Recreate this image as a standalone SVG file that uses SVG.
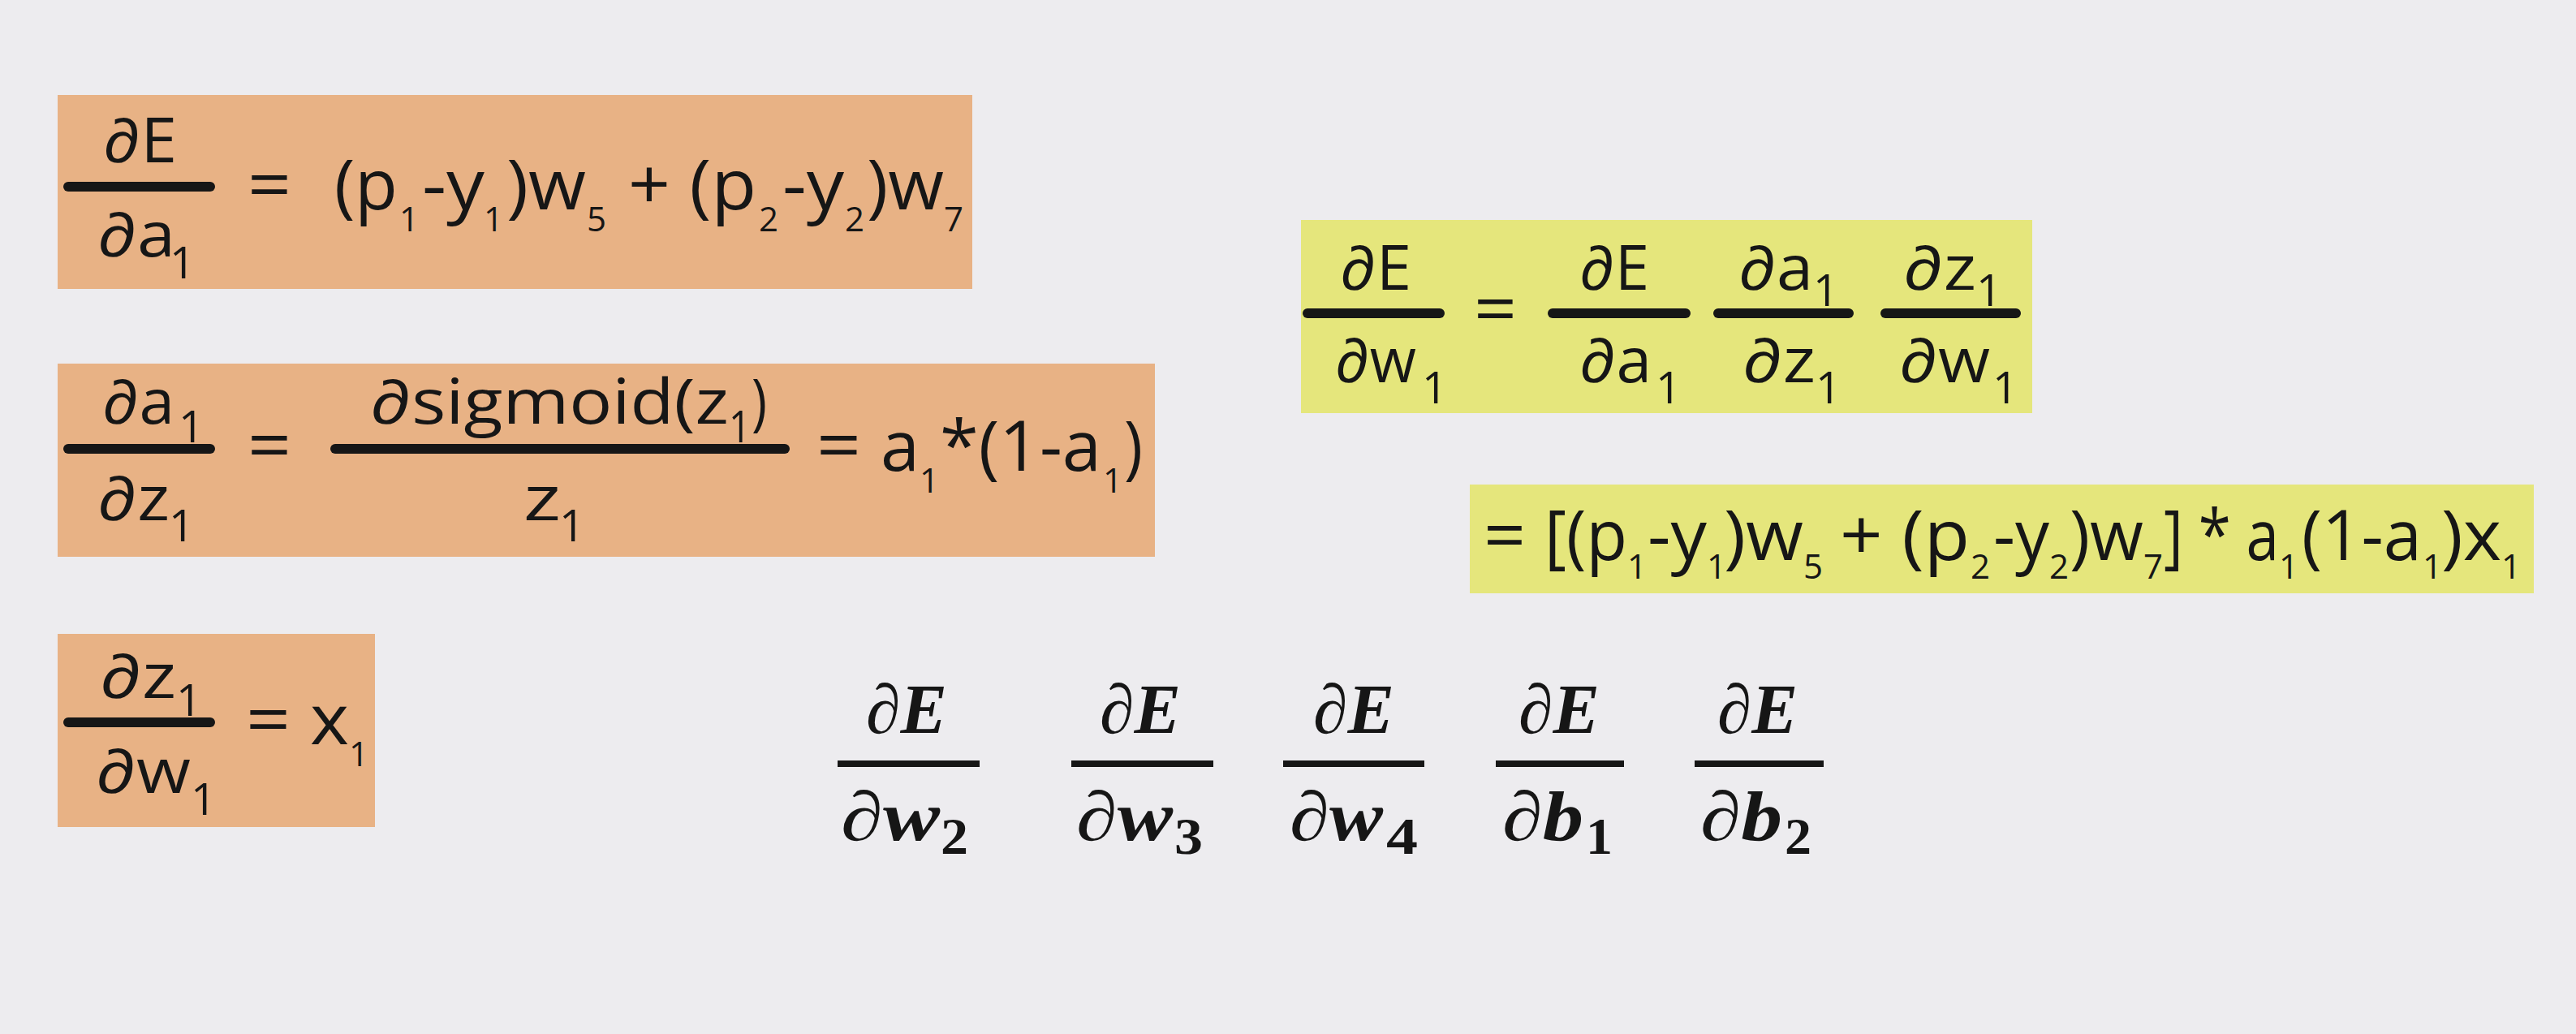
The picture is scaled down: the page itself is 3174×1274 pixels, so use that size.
<svg xmlns="http://www.w3.org/2000/svg" width="3174" height="1274" viewBox="0 0 3174 1274">
<style>
.m{font-family:"Open Sans","Noto Sans","DejaVu Sans",sans-serif;font-size:86px;fill:#161616}
.s{font-size:42px}
.f{font-size:76px}
.fs{font-size:55px}
.bar{stroke:#161616;stroke-width:12;stroke-linecap:round;fill:none}
.c{font-family:"Liberation Serif","DejaVu Serif",serif;font-weight:bold;font-style:italic;font-size:86px;fill:#161616}
.cs{font-style:normal;font-size:64px}
.cbar{stroke:#161616;stroke-width:8;fill:none}
.or{fill:#e8b285}
.ye{fill:#e5e67c}
</style>
<rect width="3174" height="1274" fill="#edecef"/>

<g id="eq-dE-da1">
<rect class="or" x="71" y="117" width="1127" height="239"/>
<text class="m f" x="127" y="200" textLength="91" lengthAdjust="spacingAndGlyphs">∂E</text>
<line class="bar" x1="84" y1="230" x2="259" y2="230"/>
<text class="m f" x="120" y="316" textLength="96" lengthAdjust="spacingAndGlyphs">∂a</text>
<text class="m fs" x="209" y="343">1</text>
<text class="m" x="305" y="258" textLength="54" lengthAdjust="spacingAndGlyphs">=</text>
<text class="m" x="412" y="258" textLength="78" lengthAdjust="spacingAndGlyphs">(p</text>
<text class="m s" x="492" y="285">1</text>
<text class="m" x="520" y="258" textLength="77" lengthAdjust="spacingAndGlyphs">-y</text>
<text class="m s" x="596" y="285">1</text>
<text class="m" x="624" y="258" textLength="98" lengthAdjust="spacingAndGlyphs">)w</text>
<text class="m s" x="723" y="285">5</text>
<text class="m" x="774" y="258" textLength="158" lengthAdjust="spacingAndGlyphs">+ (p</text>
<text class="m s" x="935" y="285">2</text>
<text class="m" x="964" y="258" textLength="76" lengthAdjust="spacingAndGlyphs">-y</text>
<text class="m s" x="1041" y="285">2</text>
<text class="m" x="1068" y="258" textLength="95" lengthAdjust="spacingAndGlyphs">)w</text>
<text class="m s" x="1163" y="285">7</text>
</g>

<g id="eq-da1-dz1">
<rect class="or" x="71" y="448" width="1352" height="238"/>
<text class="m f" x="126" y="522" textLength="89" lengthAdjust="spacingAndGlyphs">∂a</text>
<text class="m fs" x="220" y="545">1</text>
<line class="bar" x1="84" y1="553" x2="259" y2="553"/>
<text class="m f" x="120" y="641" textLength="89" lengthAdjust="spacingAndGlyphs">∂z</text>
<text class="m fs" x="208" y="667">1</text>
<text class="m" x="305" y="579" textLength="54" lengthAdjust="spacingAndGlyphs">=</text>
<text class="m f" x="456" y="522" textLength="442" lengthAdjust="spacingAndGlyphs">∂sigmoid(z</text>
<text class="m fs" x="898" y="545" textLength="27" lengthAdjust="spacingAndGlyphs">1</text>
<text class="m f" x="926" y="522" textLength="19" lengthAdjust="spacingAndGlyphs">)</text>
<line class="bar" x1="413" y1="553" x2="967" y2="553"/>
<text class="m f" x="645" y="641" textLength="46" lengthAdjust="spacingAndGlyphs">z</text>
<text class="m fs" x="689" y="667">1</text>
<text class="m" x="1006" y="579" textLength="55" lengthAdjust="spacingAndGlyphs">=</text>
<text class="m" x="1085" y="580" textLength="48" lengthAdjust="spacingAndGlyphs">a</text>
<text class="m s" x="1133" y="607">1</text>
<text class="m" x="1158" y="580" textLength="199" lengthAdjust="spacingAndGlyphs">*(1-a</text>
<text class="m s" x="1359" y="607">1</text>
<text class="m" x="1385" y="580" textLength="23" lengthAdjust="spacingAndGlyphs">)</text>
</g>

<g id="eq-dz1-dw1">
<rect class="or" x="71" y="781" width="391" height="238"/>
<text class="m f" x="123" y="860" textLength="94" lengthAdjust="spacingAndGlyphs">∂z</text>
<text class="m fs" x="217" y="882">1</text>
<line class="bar" x1="84" y1="890" x2="259" y2="890"/>
<text class="m f" x="118" y="977" textLength="117" lengthAdjust="spacingAndGlyphs">∂w</text>
<text class="m fs" x="235" y="1004">1</text>
<text class="m" x="303" y="917" textLength="55" lengthAdjust="spacingAndGlyphs">=</text>
<text class="m" x="382" y="917" textLength="48" lengthAdjust="spacingAndGlyphs">x</text>
<text class="m s" x="430" y="944">1</text>
</g>

<g id="eq-chain">
<rect class="ye" x="1603" y="271" width="901" height="238"/>
<text class="m f" x="1651" y="357" textLength="88" lengthAdjust="spacingAndGlyphs">∂E</text>
<line class="bar" x1="1611" y1="386" x2="1774" y2="386"/>
<text class="m f" x="1645" y="471" textLength="100" lengthAdjust="spacingAndGlyphs">∂w</text>
<text class="m fs" x="1752" y="497">1</text>
<text class="m" x="1816" y="411" textLength="53" lengthAdjust="spacingAndGlyphs">=</text>
<text class="m f" x="1946" y="357" textLength="86" lengthAdjust="spacingAndGlyphs">∂E</text>
<line class="bar" x1="1913" y1="386" x2="2077" y2="386"/>
<text class="m f" x="1946" y="471" textLength="89" lengthAdjust="spacingAndGlyphs">∂a</text>
<text class="m fs" x="2040" y="497">1</text>
<text class="m f" x="2142" y="357" textLength="92" lengthAdjust="spacingAndGlyphs">∂a</text>
<text class="m fs" x="2234" y="377">1</text>
<line class="bar" x1="2117" y1="386" x2="2278" y2="386"/>
<text class="m f" x="2147" y="471" textLength="90" lengthAdjust="spacingAndGlyphs">∂z</text>
<text class="m fs" x="2237" y="497">1</text>
<text class="m f" x="2345" y="357" textLength="90" lengthAdjust="spacingAndGlyphs">∂z</text>
<text class="m fs" x="2435" y="377">1</text>
<line class="bar" x1="2323" y1="386" x2="2484" y2="386"/>
<text class="m f" x="2340" y="471" textLength="112" lengthAdjust="spacingAndGlyphs">∂w</text>
<text class="m fs" x="2455" y="497">1</text>
</g>

<g id="eq-result">
<rect class="ye" x="1811" y="597" width="1311" height="134"/>
<text class="m" x="1828" y="690" textLength="52" lengthAdjust="spacingAndGlyphs">=</text>
<text class="m" x="1903" y="690" textLength="102" lengthAdjust="spacingAndGlyphs">[(p</text>
<text class="m s" x="2005" y="713">1</text>
<text class="m" x="2030" y="690" textLength="73" lengthAdjust="spacingAndGlyphs">-y</text>
<text class="m s" x="2103" y="713">1</text>
<text class="m" x="2124" y="690" textLength="98" lengthAdjust="spacingAndGlyphs">)w</text>
<text class="m s" x="2222" y="713">5</text>
<text class="m" x="2267" y="690" textLength="160" lengthAdjust="spacingAndGlyphs">+ (p</text>
<text class="m s" x="2428" y="713">2</text>
<text class="m" x="2456" y="690" textLength="69" lengthAdjust="spacingAndGlyphs">-y</text>
<text class="m s" x="2525" y="713">2</text>
<text class="m" x="2550" y="690" textLength="91" lengthAdjust="spacingAndGlyphs">)w</text>
<text class="m s" x="2641" y="713">7</text>
<text class="m" x="2666" y="690" textLength="142" lengthAdjust="spacingAndGlyphs">] * a</text>
<text class="m s" x="2808" y="713">1</text>
<text class="m" x="2836" y="690" textLength="148" lengthAdjust="spacingAndGlyphs">(1-a</text>
<text class="m s" x="2985" y="713">1</text>
<text class="m" x="3008" y="690" textLength="74" lengthAdjust="spacingAndGlyphs">)x</text>
<text class="m s" x="3082" y="713">1</text>
</g>

<g id="frac-w2">
<text class="c" x="1067" y="903" textLength="100" lengthAdjust="spacingAndGlyphs">∂E</text>
<line class="cbar" x1="1032" y1="941" x2="1207" y2="941"/>
<text class="c" x="1036" y="1035" textLength="122" lengthAdjust="spacingAndGlyphs">∂w</text>
<text class="c cs" x="1159" y="1052" textLength="34" lengthAdjust="spacingAndGlyphs">2</text>
</g>
<g id="frac-w3">
<text class="c" x="1355" y="903" textLength="100" lengthAdjust="spacingAndGlyphs">∂E</text>
<line class="cbar" x1="1320" y1="941" x2="1495" y2="941"/>
<text class="c" x="1326" y="1035" textLength="119" lengthAdjust="spacingAndGlyphs">∂w</text>
<text class="c cs" x="1447" y="1052" textLength="35" lengthAdjust="spacingAndGlyphs">3</text>
</g>
<g id="frac-w4">
<text class="c" x="1618" y="903" textLength="100" lengthAdjust="spacingAndGlyphs">∂E</text>
<line class="cbar" x1="1581" y1="941" x2="1755" y2="941"/>
<text class="c" x="1589" y="1035" textLength="115" lengthAdjust="spacingAndGlyphs">∂w</text>
<text class="c cs" x="1708" y="1052" textLength="39" lengthAdjust="spacingAndGlyphs">4</text>
</g>
<g id="frac-b1">
<text class="c" x="1871" y="903" textLength="100" lengthAdjust="spacingAndGlyphs">∂E</text>
<line class="cbar" x1="1843" y1="941" x2="2001" y2="941"/>
<text class="c" x="1851" y="1035" textLength="100" lengthAdjust="spacingAndGlyphs">∂b</text>
<text class="c cs" x="1954" y="1052" textLength="33" lengthAdjust="spacingAndGlyphs">1</text>
</g>
<g id="frac-b2">
<text class="c" x="2116" y="903" textLength="99" lengthAdjust="spacingAndGlyphs">∂E</text>
<line class="cbar" x1="2088" y1="941" x2="2247" y2="941"/>
<text class="c" x="2095" y="1035" textLength="101" lengthAdjust="spacingAndGlyphs">∂b</text>
<text class="c cs" x="2199" y="1052" textLength="33" lengthAdjust="spacingAndGlyphs">2</text>
</g>
<g id="connectors"/>
</svg>
